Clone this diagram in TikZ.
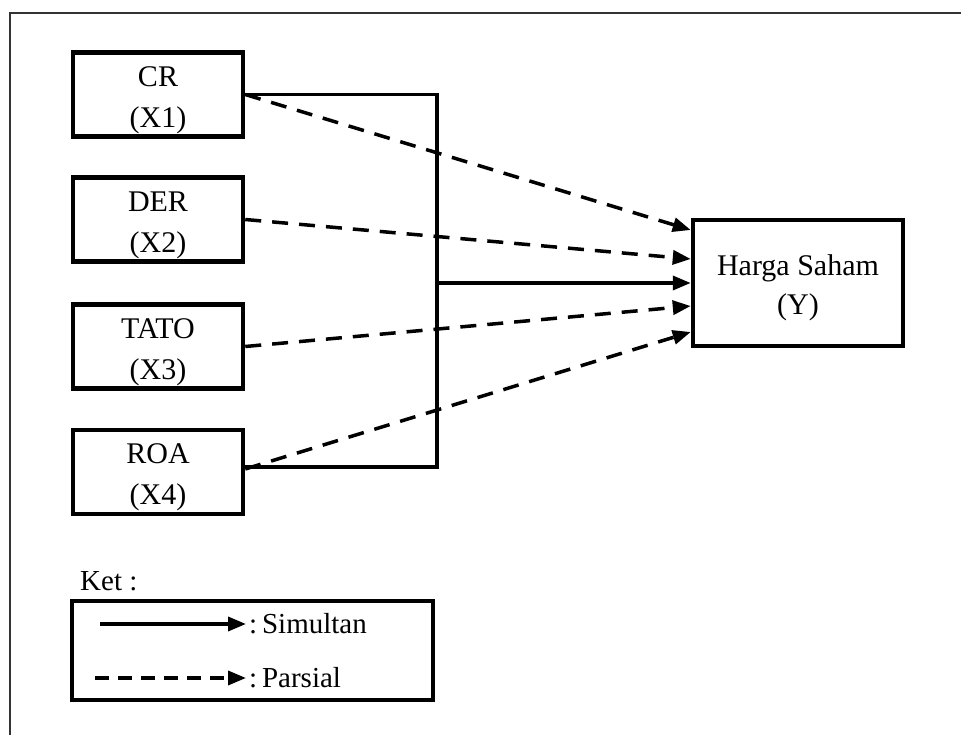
\documentclass[tikz,border=0pt]{standalone}
\usepackage{fontspec}
\setmainfont{Liberation Serif}
\usetikzlibrary{arrows.meta,calc}
\begin{document}
\begin{tikzpicture}[x=1pt,y=-1pt,
  box/.style={draw, line width=4.5pt, minimum width=170pt, minimum height=84pt, inner sep=0pt},
  lbl/.style={align=center, font=\fontsize{30}{41}\selectfont, inner sep=0pt},
  leglbl/.style={anchor=west, font=\fontsize{29}{34}\selectfont, inner sep=0pt},
  conn/.style={line width=3.5pt},
  dashconn/.style={line width=3.5pt, dash pattern=on 16pt off 11pt},
  tip/.style={-{Triangle[length=18pt,width=14pt]}},
]
\useasboundingbox (0,0) rectangle (961,735);
% outer frame (open at right and bottom)
\draw[line width=2pt, black!80] (10,735) -- (10,13) -- (961,13);

% variable boxes
\node[box] (cr) at (158,94.5) {};
\node[lbl] (crt) at ($(cr.center)+(0,5.5)$) {CR\\(X1)};
\node[box] (der) at (158,219.5) {};
\node[lbl] (dert) at ($(der.center)+(0,5.5)$) {DER\\(X2)};
\node[box] (tato) at (158,346.5) {};
\node[lbl] (tatot) at ($(tato.center)+(0,5.5)$) {TATO\\(X3)};
\node[box] (roa) at (158,472) {};
\node[lbl] (roat) at ($(roa.center)+(0,5.5)$) {ROA\\(X4)};

\node[box, minimum width=210pt, minimum height=126pt] (hs) at (798,283) {};
\node[lbl, font=\fontsize{30}{39}\selectfont] (hst) at ($(hs.center)+(0,5)$) {Harga Saham\\(Y)};

% simultaneous bus
\coordinate (bt) at (437,94.5);
\coordinate (bb) at (437,467);
\coordinate (bm) at (437,283);
\draw[conn] (cr.east) -- (bt) -- (bb) -- ($(roa.east)+(0,-5)$);
\draw[conn, tip] (bm) -- (hs.west);

% partial arrows
\draw[dashconn, tip] (cr.east) -- ($(hs.west)+(0,-53)$);
\draw[dashconn, tip] (der.east) -- ($(hs.west)+(0,-24)$);
\draw[dashconn, tip] (tato.east) -- ($(hs.west)+(0,23)$);
\draw[dashconn, tip] ($(roa.east)+(0,-3)$) -- ($(hs.west)+(0,49)$);

% legend
\node[leglbl] (ket) at (80,581) {Ket :};
\node[draw, line width=4.5pt, minimum width=361pt, minimum height=99pt, inner sep=0pt] (leg) at (252.5,650.5) {};
\node[leglbl] (sim) at (249,624) {:\,Simultan};
\node[leglbl] (par) at (249,678) {:\,Parsial};
\coordinate (s1) at (100,624);
\coordinate (p1) at (95,678);
\draw[conn, tip] (s1) -- ($(sim.west)+(-3,0)$);
\draw[dashconn, dash pattern=on 14pt off 9pt, tip] (p1) -- ($(par.west)+(-3,0)$);
\end{tikzpicture}
\end{document}
